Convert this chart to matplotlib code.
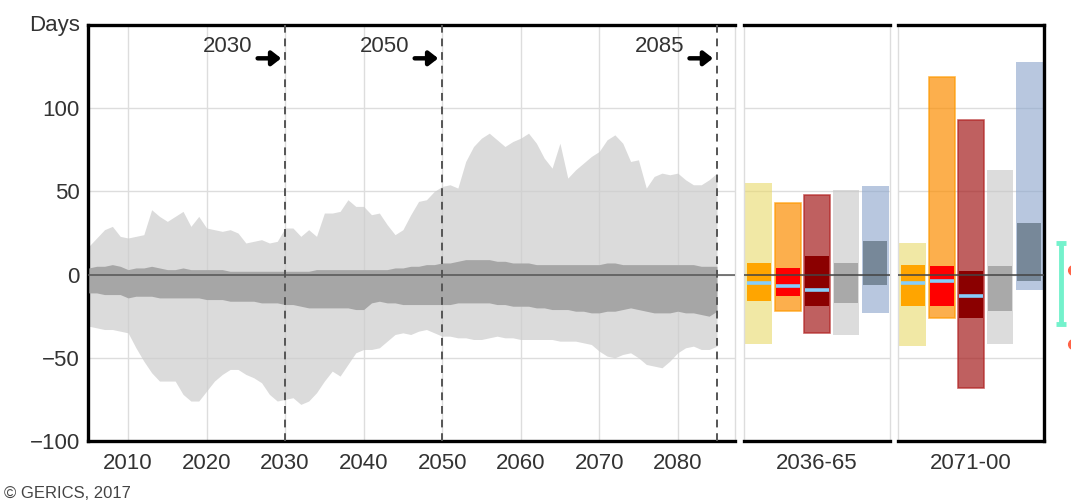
import matplotlib.pyplot as plt
import numpy as np

plt.rcParams['font.family'] = ['Liberation Sans', 'DejaVu Sans']

years = list(range(2005, 2086))

# ensemble range (light) and likely range (dark), days
light_hi = [17, 22, 27, 29, 23, 22, 23, 24, 39, 35,
            32, 35, 38, 29, 35, 28, 27, 26, 27, 25,
            19, 20, 21, 19, 20, 28, 28, 23, 27, 23,
            37, 37, 38, 45, 41, 41, 36, 37, 30, 24,
            27, 36, 44, 45, 50, 53, 54, 52, 68, 77,
            82, 85, 81, 77, 80, 82, 85, 79, 70, 64,
            79, 58, 63, 67, 71, 74, 81, 84, 79, 68,
            69, 52, 59, 61, 60, 61, 57, 54, 54, 57,
            61]
light_lo = [-31, -32, -33, -33, -34, -35, -44, -52, -59, -64,
            -64, -64, -72, -76, -76, -70, -64, -60, -57, -57,
            -60, -62, -65, -72, -76, -75, -74, -78, -76, -71,
            -64, -58, -61, -54, -47, -45, -45, -44, -40, -36,
            -35, -36, -34, -33, -35, -37, -37, -38, -38, -39,
            -39, -38, -37, -38, -38, -39, -39, -39, -39, -39,
            -40, -40, -40, -41, -42, -46, -49, -50, -48, -47,
            -50, -54, -55, -56, -52, -47, -44, -43, -45, -45,
            -43]
dark_hi = [4, 5, 5, 6, 5, 3, 4, 4, 5, 4,
           3, 3, 4, 3, 3, 3, 3, 3, 2, 2,
           2, 2, 2, 2, 2, 2, 2, 2, 2, 3,
           3, 3, 3, 3, 3, 3, 3, 3, 3, 4,
           4, 5, 5, 6, 6, 7, 7, 8, 9, 9,
           9, 9, 8, 8, 7, 7, 7, 6, 6, 6,
           6, 6, 6, 6, 6, 6, 7, 7, 6, 6,
           6, 6, 6, 6, 6, 6, 6, 6, 5, 5,
           5]
dark_lo = [-11, -11, -12, -12, -12, -14, -13, -13, -13, -14,
           -14, -14, -14, -14, -14, -15, -15, -15, -16, -16,
           -16, -16, -17, -17, -17, -18, -18, -19, -20, -20,
           -20, -20, -20, -20, -21, -21, -17, -16, -17, -17,
           -18, -18, -18, -18, -18, -18, -18, -17, -17, -17,
           -17, -17, -18, -18, -19, -19, -19, -20, -20, -21,
           -21, -21, -22, -22, -23, -23, -22, -22, -21, -20,
           -21, -22, -23, -23, -23, -22, -23, -23, -24, -25,
           -22]

marker_years = [2030, 2050, 2085]

# scenario bars per period: outer range, inner range, median
periods = ['2036-65', '2071-00']
outer_hi = [[55, 43, 48, 51, 53], [19, 119, 93, 63, 128]]
outer_lo = [[-42, -22, -35, -36, -23], [-43, -26, -68, -42, -9]]
inner_hi = [[7, 4, 11, 7, 20], [6, 5, 2, 5, 31]]
inner_lo = [[-16, -13, -19, -17, -6], [-19, -19, -26, -22, -4]]
medians = [[-5, -7, -9, None, None], [-5, -4, -13, None, None]]

outer_cols = ['#e9d969', '#fc8e01', '#a51c1c', '#c5c5c5', '#89a3cb']
outer_alpha = [0.6, 0.7, 0.7, 0.6, 0.6]
outer_edges = ['none', '#ff9900', '#b22222', 'none', 'none']
inner_cols = ['#ffa500', '#ff0000', '#8b0000', '#a9a9a9', '#778899']

txt = '#333333'
grid = '#dddddd'
fs = 16

fig = plt.figure(figsize=(10.71, 5.01), dpi=100)
ax = fig.add_axes([0.0822, 0.1198, 0.6041, 0.8302])
axb = [fig.add_axes([0.6947, 0.1198, 0.1363, 0.8302]),
       fig.add_axes([0.8385, 0.1198, 0.1363, 0.8302])]

# time series panel
ax.fill_between(years, light_lo, light_hi, color='#cccccc', alpha=0.7, lw=0, zorder=2)
ax.fill_between(years, dark_lo, dark_hi, color='#a6a6a6', lw=0, zorder=3)
ax.axhline(0, color='#555555', lw=1.1, zorder=5)
for yr in marker_years:
    ax.axvline(yr, color='#555555', lw=1.4, ls=(0, (4, 3)), zorder=6)
    ax.text(yr - 4.2, 137, str(yr), ha='right', va='center', fontsize=fs, color=txt)
    ax.annotate('', xy=(yr - 0.5, 130), xytext=(yr - 3.5, 130),
                arrowprops=dict(arrowstyle='-|>,head_length=0.45,head_width=0.35',
                                color='black', lw=3.2, shrinkA=0, shrinkB=0,
                                mutation_scale=12))

ax.set_xlim(2004.9, 2087.3)
ax.set_ylim(-100, 150)
ax.set_xticks(range(2010, 2090, 10))
ax.set_yticks([-100, -50, 0, 50, 100])
ax.grid(True, color=grid, lw=1, zorder=1)
ax.set_axisbelow(True)
ax.tick_params(length=0, labelsize=fs, labelcolor=txt, pad=9)
ax.tick_params(axis='y', pad=6)
for side in ['left', 'top', 'bottom']:
    ax.spines[side].set_linewidth(2.4)
    ax.spines[side].set_color('black')
ax.spines['right'].set_color(grid)
ax.spines['right'].set_linewidth(1)
fig.text(0.0747, 0.95, 'Days', ha='right', va='center', fontsize=fs, color=txt)

# period bar panels
for k, a in enumerate(axb):
    xs = np.arange(5)
    for i in xs:
        lo, hi = outer_lo[k][i], outer_hi[k][i]
        a.bar(i, hi - lo, bottom=lo, width=0.9, color=outer_cols[i],
              alpha=outer_alpha[i], edgecolor=outer_edges[i], lw=1.2, zorder=2)
        lo, hi = inner_lo[k][i], inner_hi[k][i]
        a.bar(i, hi - lo, bottom=lo, width=0.82, color=inner_cols[i], lw=0, zorder=3)
        if medians[k][i] is not None:
            a.hlines(medians[k][i], i - 0.41, i + 0.41, color='#87cefa', lw=2.6, zorder=4)
    a.axhline(0, color='#444444', lw=1.1, zorder=5)
    a.set_xlim(-0.5, 4.5)
    a.set_ylim(-100, 150)
    a.set_yticks([-100, -50, 0, 50, 100])
    a.set_yticklabels([])
    a.set_xticks([2])
    a.set_xticklabels([periods[k]])
    a.tick_params(length=0, labelsize=fs, labelcolor=txt, pad=9)
    a.grid(True, axis='y', color=grid, lw=1, zorder=1)
    a.set_axisbelow(True)
    for side in ['top', 'bottom']:
        a.spines[side].set_linewidth(2.4)
        a.spines[side].set_color('black')
    for side in ['left', 'right']:
        a.spines[side].set_linewidth(1)
        a.spines[side].set_color(grid)
axb[1].spines['right'].set_linewidth(2.4)
axb[1].spines['right'].set_color('black')

# observed range marker and partially visible points at the right edge
a = axb[1]
a.vlines(5.08, -29.4, 19.2, color='#74f2cc', lw=3.5, clip_on=False)
a.hlines([-29.4, 19.2], 4.9, 5.26, color='#74f2cc', lw=3.5, clip_on=False)
a.plot([5.5, 5.5], [3, -42], 'o', color='#ff6347', ms=7, clip_on=False)

fig.text(0.004, 0.006, '\u00a9 GERICS, 2017', fontsize=12, color='#444444')

fig.savefig('out.png', dpi=100)
